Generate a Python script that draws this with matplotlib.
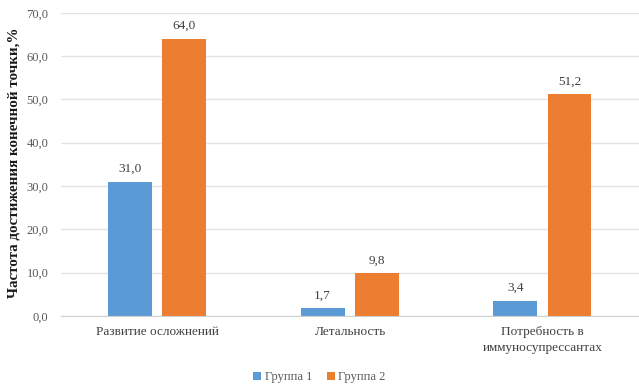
import numpy as np
import matplotlib
matplotlib.use('Agg')
import matplotlib.pyplot as plt

plt.rcParams['font.family'] = ['Liberation Serif', 'DejaVu Serif']

categories = ['Развитие осложнений', 'Летальность', 'Потребность в\nиммуносупрессантах']
group1 = [31.0, 1.7, 3.4]
group2 = [64.0, 9.8, 51.2]
series_names = ['Группа 1', 'Группа 2']
yticks = [0, 10, 20, 30, 40, 50, 60, 70]

blue = '#5B9BD5'
orange = '#ED7D31'
txt = '#595959'

fig = plt.figure(figsize=(6.39, 3.88), dpi=100)
ax = fig.add_axes([0.0955, 0.186, 0.9045, 0.781])

x = np.arange(len(categories))
w = 0.227
b1 = ax.bar(x - 0.142, group1, w, color=blue, label=series_names[0])
b2 = ax.bar(x + 0.139, group2, w, color=orange, label=series_names[1])

for bars in (b1, b2):
    for r in bars:
        h = r.get_height()
        ax.annotate(('%.1f' % h).replace('.', ','), (r.get_x() + r.get_width() / 2, h),
                    xytext=(0, 5), textcoords='offset points', ha='center', va='bottom',
                    fontsize=9.5, color='#404040')

ax.set_xlim(-0.5, 2.5)
ax.set_ylim(0, 70)
ax.set_yticks(yticks)
ax.set_yticklabels([('%.1f' % v).replace('.', ',') for v in yticks], fontsize=9, color=txt)
ax.set_xticks(x)
ax.set_xticklabels(categories, fontsize=9.5, color='#404040', linespacing=1.5)
ax.tick_params(length=0, pad=7)
ax.tick_params(axis='y', pad=9)

ax.grid(axis='y', color='#e3e3e3', linewidth=1)
ax.set_axisbelow(True)
for s in ['top', 'right', 'left']:
    ax.spines[s].set_visible(False)
ax.spines['bottom'].set_color('#d0d0d0')

fig.text(0.022, 0.58, 'Частота достижения конечной точки,%', rotation=90,
         ha='center', va='center', fontsize=10.8, fontweight='bold', color='#1a1a1a')

fig.legend(loc='center', bbox_to_anchor=(0.5, 0.028), ncol=2, frameon=False,
           fontsize=9, handlelength=0.6, handleheight=0.6, handletextpad=0.3,
           columnspacing=1.2, labelcolor=txt)

plt.savefig('out.png', dpi=100)
